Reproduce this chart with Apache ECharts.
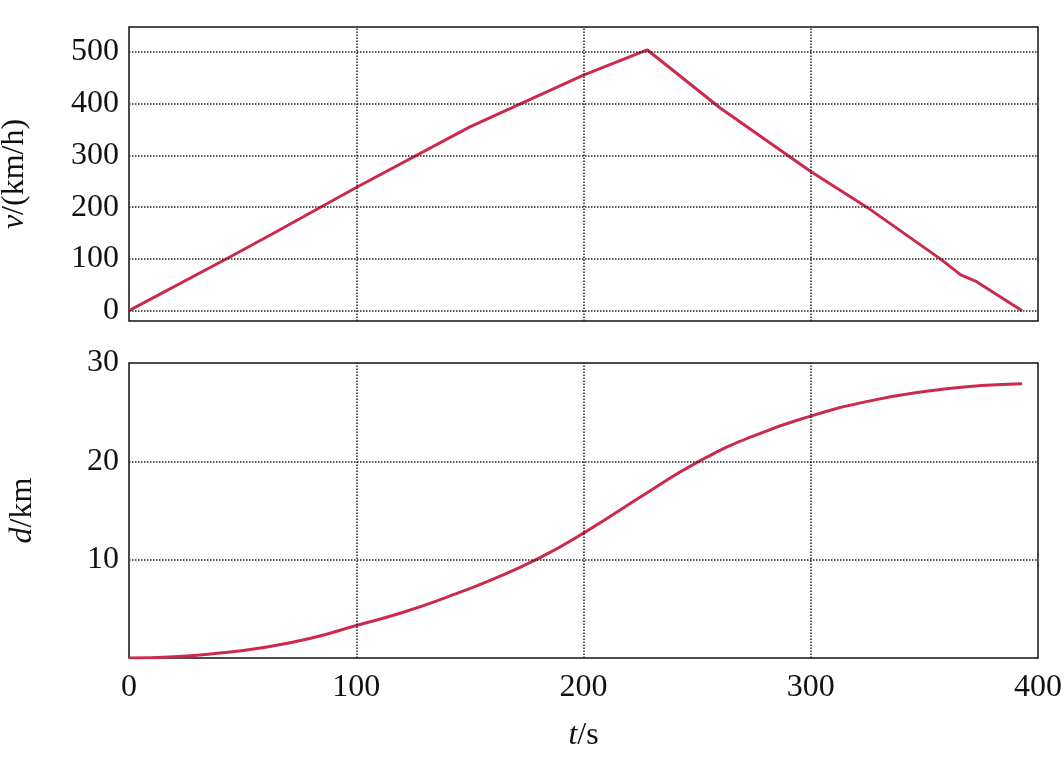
<!DOCTYPE html><html><head><meta charset="utf-8"><script src="https://cdn.jsdelivr.net/npm/echarts@6/dist/echarts.min.js"></script></head><body style="margin:0;background:#fff"><div id="c" style="width:1064px;height:769px"></div><script>
const vT=[0,45,63,100,150,200,228,260,300,325,357,366,373,393];
const vV=[0,105,148,238,355,455,504,392,269,199,100,69,56,0];
const dT=[0,20,40,60,80,100,120,140,160,180,200,228,250,275,300,325,350,375,393];
const dV=[0,0.12,0.5,1.1,2.0,3.3,4.6,6.2,8.0,10.1,12.7,16.8,19.9,22.6,24.6,26.1,27.1,27.7,27.9];
const xTicks=[0,100,200,300,400];
const vTicks=[0,100,200,300,400,500];
const dTicks=[10,20,30];
const F='Liberation Serif',RED='#cc2a4c',FS=32;
const lab={fontFamily:F,fontSize:FS,color:'#111'};
const nm={fontFamily:F,fontSize:FS,color:'#111',rich:{i:{fontFamily:F,fontSize:FS,fontStyle:'italic',color:'#111'}}};
const gl=(xs,ys)=>({silent:true,symbol:'none',label:{show:false},lineStyle:{type:'dotted',color:'#222',width:1.5},data:[...xs.map(x=>({xAxis:x})),...ys.map(y=>({yAxis:y}))]});
const c=echarts.init(document.getElementById('c'));
c.setOption({animation:false,
grid:[{left:129,right:26,top:27,height:294,outerBoundsMode:'none',containLabel:false,show:true,borderColor:'#111',borderWidth:1.5},{left:129,right:26,top:363,height:295,outerBoundsMode:'none',containLabel:false,show:true,borderColor:'#111',borderWidth:1.5}],
xAxis:[{gridIndex:0,type:'value',min:0,max:400,interval:100,axisLabel:{show:false},axisLine:{show:false},axisTick:{show:false},splitLine:{show:false}},
{gridIndex:1,type:'value',min:0,max:400,interval:100,axisLabel:Object.assign({margin:14},lab),axisLine:{show:false},axisTick:{show:false},splitLine:{show:false},
 name:'{i|t}/s',nameLocation:'middle',nameGap:62,nameTextStyle:nm}],
yAxis:[{gridIndex:0,type:'value',min:-20,max:548,interval:20,axisLabel:Object.assign({margin:10,formatter:v=>vTicks.includes(v)?String(v):''},lab),axisLine:{show:false},axisTick:{show:false},splitLine:{show:false},
 name:'{i|v}/(km/h)',nameLocation:'middle',nameRotate:90,nameGap:98,nameTextStyle:nm},
{gridIndex:1,type:'value',min:0,max:30,interval:10,axisLabel:Object.assign({margin:10,formatter:v=>dTicks.includes(v)?String(v):''},lab),axisLine:{show:false},axisTick:{show:false},splitLine:{show:false},
 name:'{i|d}/km',nameLocation:'middle',nameRotate:90,nameGap:90,nameTextStyle:nm}],
series:[{type:'line',xAxisIndex:0,yAxisIndex:0,data:vT.map((t,i)=>[t,vV[i]]),showSymbol:false,lineStyle:{color:RED,width:3},markLine:gl([100,200,300],vTicks)},
{type:'line',xAxisIndex:1,yAxisIndex:1,smooth:true,data:dT.map((t,i)=>[t,dV[i]]),showSymbol:false,lineStyle:{color:RED,width:3},markLine:gl([100,200,300],[10,20])}]});
</script></body></html>
